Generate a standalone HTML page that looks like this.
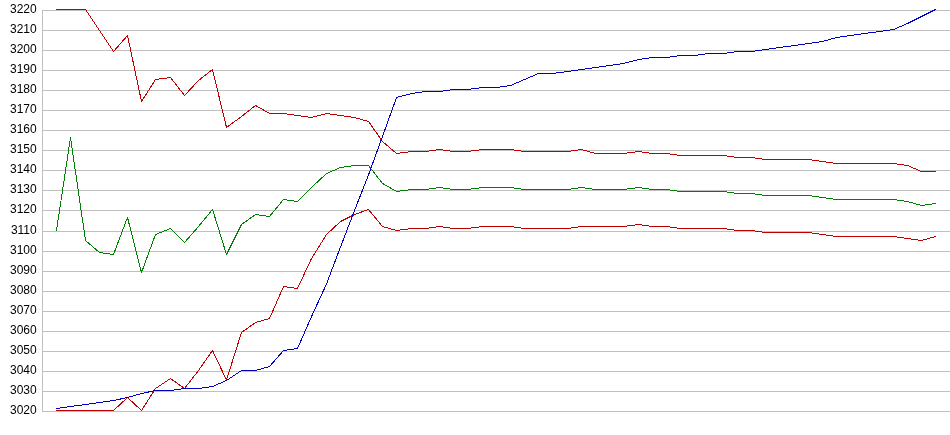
<!DOCTYPE html>
<html><head><meta charset="utf-8"><title>Chart</title>
<style>
html,body{margin:0;padding:0;background:#fff;}
body{width:950px;height:435px;overflow:hidden;font-family:"Liberation Sans",sans-serif;}
svg{display:block;will-change:transform;}
text{font-family:"Liberation Sans",sans-serif;font-size:12px;fill:#000;}
</style></head><body>
<svg width="950" height="435" viewBox="0 0 950 435">
<rect width="950" height="435" fill="#fff"/>
<g shape-rendering="crispEdges" stroke="#c0c0c0" stroke-width="1" fill="none">
<line x1="42" y1="10.5" x2="950" y2="10.5"/>
<line x1="42" y1="30.5" x2="950" y2="30.5"/>
<line x1="42" y1="50.5" x2="950" y2="50.5"/>
<line x1="42" y1="70.5" x2="950" y2="70.5"/>
<line x1="42" y1="90.5" x2="950" y2="90.5"/>
<line x1="42" y1="110.5" x2="950" y2="110.5"/>
<line x1="42" y1="130.5" x2="950" y2="130.5"/>
<line x1="42" y1="150.5" x2="950" y2="150.5"/>
<line x1="42" y1="170.5" x2="950" y2="170.5"/>
<line x1="42" y1="190.5" x2="950" y2="190.5"/>
<line x1="42" y1="210.5" x2="950" y2="210.5"/>
<line x1="42" y1="231.5" x2="950" y2="231.5"/>
<line x1="42" y1="251.5" x2="950" y2="251.5"/>
<line x1="42" y1="271.5" x2="950" y2="271.5"/>
<line x1="42" y1="291.5" x2="950" y2="291.5"/>
<line x1="42" y1="311.5" x2="950" y2="311.5"/>
<line x1="42" y1="331.5" x2="950" y2="331.5"/>
<line x1="42" y1="351.5" x2="950" y2="351.5"/>
<line x1="42" y1="371.5" x2="950" y2="371.5"/>
<line x1="42" y1="391.5" x2="950" y2="391.5"/>
<line x1="42" y1="411.5" x2="950" y2="411.5"/>
<line x1="42.5" y1="10" x2="42.5" y2="412"/>
</g>
<g text-anchor="end">
<text x="36.7" y="12.5">3220</text>
<text x="36.7" y="32.5">3210</text>
<text x="36.7" y="52.5">3200</text>
<text x="36.7" y="72.5">3190</text>
<text x="36.7" y="92.5">3180</text>
<text x="36.7" y="112.5">3170</text>
<text x="36.7" y="132.5">3160</text>
<text x="36.7" y="152.5">3150</text>
<text x="36.7" y="172.5">3140</text>
<text x="36.7" y="192.5">3130</text>
<text x="36.7" y="212.5">3120</text>
<text x="36.7" y="233.5">3110</text>
<text x="36.7" y="253.5">3100</text>
<text x="36.7" y="273.5">3090</text>
<text x="36.7" y="293.5">3080</text>
<text x="36.7" y="313.5">3070</text>
<text x="36.7" y="333.5">3060</text>
<text x="36.7" y="353.5">3050</text>
<text x="36.7" y="373.5">3040</text>
<text x="36.7" y="393.5">3030</text>
<text x="36.7" y="413.5">3020</text>
</g>
<g shape-rendering="crispEdges" fill="none" stroke-width="1" stroke-linejoin="bevel" stroke-linecap="square">
<polyline stroke="#c00000" points="56.50,9.5 70.50,9.5 85.50,9.5 99.50,30.5 113.50,51.5 127.50,35.5 141.50,101.5 155.50,79.5 170.50,77.5 184.50,95.5 198.50,80.5 212.50,69.5 226.50,127.5 241.50,116.5 255.50,105.5 269.50,113.5 283.50,113.5 297.50,115.5 311.50,117.5 326.50,113.5 340.50,115.5 354.50,117.5 368.50,121.5 382.50,141.5 396.50,153.5 411.50,151.5 425.50,151.5 439.50,149.5 453.50,151.5 467.50,151.5 482.50,149.5 496.50,149.5 510.50,149.5 524.50,151.5 538.50,151.5 552.50,151.5 567.50,151.5 581.50,149.5 595.50,153.5 609.50,153.5 623.50,153.5 638.50,151.5 652.50,153.5 666.50,153.5 680.50,155.5 694.50,155.5 708.50,155.5 723.50,155.5 737.50,157.5 751.50,157.5 765.50,159.5 779.50,159.5 794.50,159.5 808.50,159.5 822.50,161.5 836.50,163.5 850.50,163.5 864.50,163.5 879.50,163.5 893.50,163.5 907.50,165.5 921.50,171.5 935.50,171.5"/>
<polyline stroke="#c00000" points="56.50,410.5 70.50,410.5 85.50,410.5 99.50,410.5 113.50,410.5 127.50,397.5 141.50,410.5 155.50,388.5 170.50,378.5 184.50,388.5 198.50,370.5 212.50,350.5 226.50,380.0 241.50,332.5 255.50,322.5 269.50,318.5 283.50,286.5 297.50,288.5 311.50,258.5 326.50,234.5 340.50,221.5 354.50,214.5 368.50,209.5 382.50,226.5 396.50,230.5 411.50,228.5 425.50,228.5 439.50,226.5 453.50,228.5 467.50,228.5 482.50,226.5 496.50,226.5 510.50,226.5 524.50,228.5 538.50,228.5 552.50,228.5 567.50,228.5 581.50,226.5 595.50,226.5 609.50,226.5 623.50,226.5 638.50,224.5 652.50,226.5 666.50,226.5 680.50,228.5 694.50,228.5 708.50,228.5 723.50,228.5 737.50,230.5 751.50,230.5 765.50,232.5 779.50,232.5 794.50,232.5 808.50,232.5 822.50,234.5 836.50,236.5 850.50,236.5 864.50,236.5 879.50,236.5 893.50,236.5 907.50,238.5 921.50,240.5 935.50,236.5"/>
<polyline stroke="#008000" points="56.50,230.5 70.50,137.5 85.50,240.5 99.50,252.5 113.50,254.5 127.50,217.5 141.50,272.5 155.50,234.5 170.50,228.5 184.50,242.5 198.50,226.5 212.50,209.5 226.50,254.5 241.50,224.5 255.50,214.5 269.50,216.5 283.50,199.5 297.50,201.5 311.50,187.5 326.50,173.5 340.50,167.5 354.50,165.5 368.50,165.5 382.50,183.5 396.50,191.5 411.50,189.5 425.50,189.5 439.50,187.5 453.50,189.5 467.50,189.5 482.50,187.5 496.50,187.5 510.50,187.5 524.50,189.5 538.50,189.5 552.50,189.5 567.50,189.5 581.50,187.5 595.50,189.5 609.50,189.5 623.50,189.5 638.50,187.5 652.50,189.5 666.50,189.5 680.50,191.5 694.50,191.5 708.50,191.5 723.50,191.5 737.50,193.5 751.50,193.5 765.50,195.5 779.50,195.5 794.50,195.5 808.50,195.5 822.50,197.5 836.50,199.5 850.50,199.5 864.50,199.5 879.50,199.5 893.50,199.5 907.50,201.5 921.50,205.5 935.50,203.5"/>
<polyline stroke="#0000c0" points="56.50,408.5 70.50,406.5 85.50,404.5 99.50,402.5 113.50,400.5 127.50,397.5 141.50,393.5 155.50,390.5 170.50,390.5 184.50,388.5 198.50,388.5 212.50,386.5 226.50,380.5 241.50,370.5 255.50,370.5 269.50,366.5 283.50,350.5 297.50,348.5 311.50,316.5 326.50,284.0 340.50,247.0 354.50,210.5 368.50,175.0 382.50,136.5 396.50,97.5 411.50,93.5 425.50,91.5 439.50,91.5 453.50,89.5 467.50,89.5 482.50,87.5 496.50,87.5 510.50,85.5 524.50,79.5 538.50,73.5 552.50,73.5 567.50,71.5 581.50,69.5 595.50,67.5 609.50,65.5 623.50,63.5 638.50,59.5 652.50,57.5 666.50,57.5 680.50,55.5 694.50,55.5 708.50,53.5 723.50,53.5 737.50,51.5 751.50,51.5 765.50,49.5 779.50,47.5 794.50,45.5 808.50,43.5 822.50,41.5 836.50,37.5 850.50,35.5 864.50,33.5 879.50,31.5 893.50,29.5 907.50,23.5 921.50,16.5 935.50,9.5"/>
</g>
</svg>
</body></html>
